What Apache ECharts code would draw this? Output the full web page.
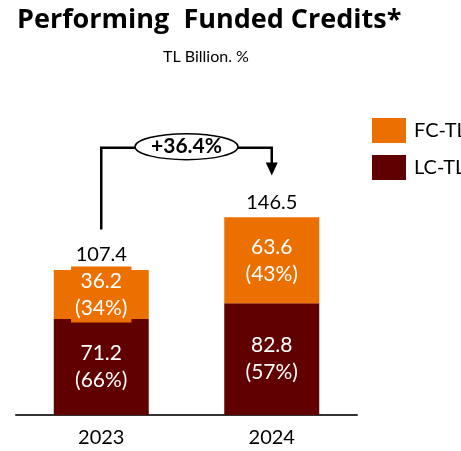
<!DOCTYPE html>
<html>
<head>
<meta charset="utf-8">
<script src="https://cdn.jsdelivr.net/npm/echarts@6/dist/echarts.min.js"></script>
<style>
  html, body { margin: 0; padding: 0; background: #fff; }
  #main { width: 461px; height: 451px; }
</style>
</head>
<body>
<div id="main"></div>
<script>
// data
var years = ['2023', '2024'];
var lcTL = [71.2, 82.8];
var fcTL = [36.2, 63.6];
var lcShare = ['66%', '57%'];
var fcShare = ['34%', '43%'];
var totals = [107.4, 146.5];
var growth = '+36.4%';

var ORANGE = '#EC7000';
var DARK = '#610000';
var FONT = 'Lato';

var chart = echarts.init(document.getElementById('main'));

function innerLabel(shares, bg) {
  return {
    show: true,
    position: 'inside',
    color: '#fff',
    fontFamily: FONT,
    fontSize: 21,
    lineHeight: 27,
    backgroundColor: bg,
    padding: [1, 4, 1, 4],
    formatter: function (p) {
      return p.value + '\n(' + shares[p.dataIndex] + ')';
    }
  };
}

chart.setOption({
  animation: false,
  title: [
    {
      text: 'Performing  Funded Credits*',
      left: 12, top: 2,
      textStyle: { fontFamily: 'Open Sans', fontWeight: 'bold', fontSize: 27, color: '#000' }
    },
    {
      text: 'TL Billion. %',
      left: 158, top: 44,
      textStyle: { fontFamily: FONT, fontWeight: 'normal', fontSize: 16, color: '#000' }
    }
  ],
  legend: {
    left: 367, top: 113,
    orient: 'vertical',
    itemWidth: 34, itemHeight: 25, itemGap: 12,
    icon: 'rect',
    data: ['FC-TL', 'LC-TL'],
    textStyle: { fontFamily: FONT, fontSize: 20, color: '#000', padding: [0, 0, 0, 3] }
  },
  grid: { left: 16, right: 104, top: 145, bottom: 36 },
  xAxis: {
    type: 'category',
    data: years,
    axisLine: { lineStyle: { color: '#333', width: 2 } },
    axisTick: { show: false },
    axisLabel: { fontFamily: FONT, fontSize: 20, color: '#000', margin: 13 }
  },
  yAxis: { type: 'value', min: 0, max: 200, show: false },
  series: [
    {
      name: 'LC-TL', type: 'bar', stack: 'tl', barWidth: 95,
      itemStyle: { color: DARK },
      label: innerLabel(lcShare, DARK),
      data: lcTL
    },
    {
      name: 'FC-TL', type: 'bar', stack: 'tl', barWidth: 95,
      itemStyle: { color: ORANGE },
      label: innerLabel(fcShare, ORANGE),
      data: fcTL
    },
    {
      // invisible bar up to the total, only to carry the total label
      name: 'total', type: 'bar', barWidth: 95, barGap: '-100%', z: 1,
      itemStyle: { color: 'rgba(0,0,0,0)' },
      label: {
        show: true, position: 'top', distance: 5,
        fontFamily: FONT, fontSize: 20, color: '#000',
        formatter: function (p) { return p.value.toFixed(1); }
      },
      data: totals
    }
  ]
});

// growth arrow annotation, placed through the chart's own scales
function px(i, v) { return chart.convertToPixel({ gridIndex: 0 }, [i, v]); }
var pStart = px(0, totals[0] + 30);
var pTopL = px(0, 198);
var pTopR = px(1, 198);
var pTip = px(1, totals[1] + 31);
var cx = (pTopL[0] + pTopR[0]) / 2;
var cy = pTopL[1] - 1;
var rx = 51.5, ry = 13;
var lw = 2.5;

chart.setOption({
  graphic: [
    { type: 'polyline', shape: { points: [pStart, pTopL, [cx - rx, pTopL[1]]] },
      style: { stroke: '#000', lineWidth: lw, fill: null } },
    { type: 'polyline', shape: { points: [[cx + rx, pTopR[1]], pTopR, [pTopR[0], pTip[1] - 12]] },
      style: { stroke: '#000', lineWidth: lw, fill: null } },
    { type: 'polygon', shape: { points: [[pTip[0] - 6, pTip[1] - 13], [pTip[0] + 6, pTip[1] - 13], [pTip[0], pTip[1]]] },
      style: { fill: '#000' } },
    { type: 'ellipse', shape: { cx: cx, cy: cy, rx: rx, ry: ry },
      style: { fill: '#fff', stroke: '#000', lineWidth: 1.5 } },
    { type: 'text', x: cx, y: cy,
      style: { text: growth, fontFamily: FONT, fontWeight: 'bold', fontSize: 21, fill: '#000',
               align: 'center', verticalAlign: 'middle' } }
  ]
});
</script>
</body>
</html>
